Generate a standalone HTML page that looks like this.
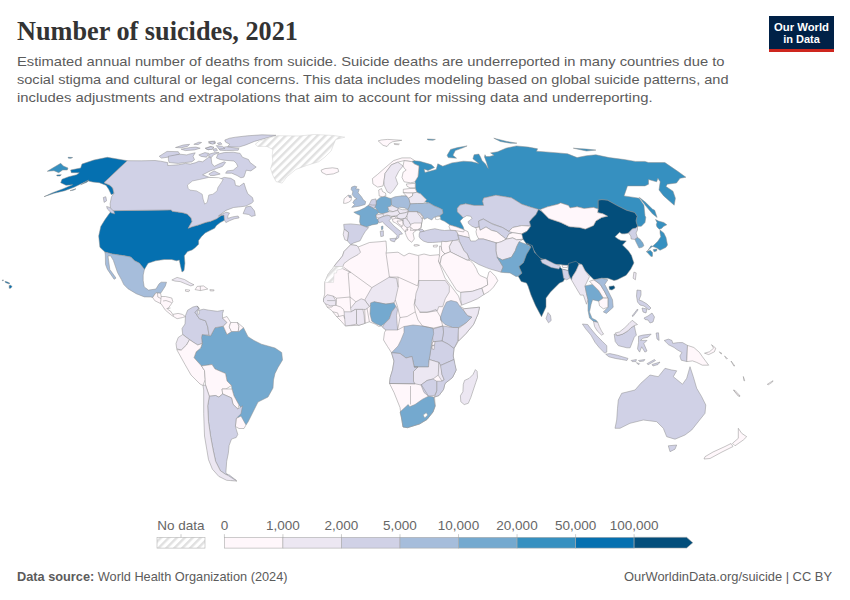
<!DOCTYPE html>
<html><head><meta charset="utf-8"><style>
html,body{margin:0;padding:0;background:#fff;width:850px;height:600px;overflow:hidden}
svg{display:block}
.t{font-family:"Liberation Serif",serif;font-weight:bold;fill:#333}
.s{font-family:"Liberation Sans",sans-serif;fill:#5b5b5b}
.lg{font-family:"Liberation Sans",sans-serif;fill:#666;font-size:13.5px}
.ft{font-family:"Liberation Sans",sans-serif;fill:#5b5b5b;font-size:12.75px}
.logo{font-family:"Liberation Sans",sans-serif;font-weight:bold;fill:#fff;font-size:11px}
</style></head><body>
<svg width="850" height="600" viewBox="0 0 850 600">
<defs>
<pattern id="hatch" patternUnits="userSpaceOnUse" width="5.6" height="5.6" patternTransform="rotate(45)">
<rect width="5.6" height="5.6" fill="#fff"/><rect x="0" y="0" width="2.4" height="5.6" fill="#e0e0e0"/>
</pattern>
</defs>
<rect width="850" height="600" fill="#fff"/>
<text class="t" x="17" y="40.3" font-size="26.5" textLength="281" lengthAdjust="spacingAndGlyphs">Number of suicides, 2021</text>
<text class="s" x="17" y="65.8" font-size="13.6" textLength="707.5" lengthAdjust="spacingAndGlyphs">Estimated annual number of deaths from suicide. Suicide deaths are underreported in many countries due to</text>
<text class="s" x="17" y="83.8" font-size="13.6" textLength="711.5" lengthAdjust="spacingAndGlyphs">social stigma and cultural or legal concerns. This data includes modeling based on global suicide patterns, and</text>
<text class="s" x="17" y="101.6" font-size="13.6" textLength="635.5" lengthAdjust="spacingAndGlyphs">includes adjustments and extrapolations that aim to account for missing data and underreporting.</text>
<rect x="769" y="16" width="65" height="34" fill="#002147"/>
<rect x="769" y="49" width="65" height="3" fill="#ce261e"/>
<text class="logo" x="801.5" y="30.5" text-anchor="middle" textLength="55" lengthAdjust="spacingAndGlyphs">Our World</text>
<text class="logo" x="801.5" y="42.8" text-anchor="middle">in Data</text>
<g stroke="#8c8c8c" stroke-width="0.5" stroke-linejoin="round">
<path d="M82,164 94,160 107.3,157.3 127.3,160.7 104,182.7 110,185.3 112.7,188 114,193.3 111.3,194.7 108.7,189.3 106,185.3 99.3,182.7 92.7,182 87.3,180.7 80.7,184 74,187.3 64.7,190.7 54,193.3 44,196.7 52.7,192.7 63.3,188.7 72.7,184.7 66,185.3 60.7,182.7 62,179.3 68.7,176.7 76.7,174.7 79.3,172.7 71.3,172.7 70.7,170 80.7,168 81.3,166ZM80.7,184.7 88.7,180 87.3,182ZM70,190.7 76,188.7 74,190ZM56.7,175 61.3,174.8 60,176 57,176ZM68,157.3 72.7,157.5 71,158.3 68.5,158.2Z" fill="#0570b0"/>
<path d="M47.3,171.3 52.7,168 60.7,163.3 63.3,166 68,168 67.3,170 62.7,170 58.7,172.7 54,170.7Z" fill="#3690c0"/>
<path d="M111.5,210.7 171.3,209.9 172.2,211.3 182.6,212.7 187.3,214.1 191.1,217.9 192,221.6 188.2,228.2 192,226.8 198.6,224.9 205.2,222.6 210.8,221.2 216.5,218.8 221.2,215.5 224,215.1 224.5,220.2 220.2,222.6 216.5,225.4 214.6,228.2 208.9,231.1 205.2,232.9 201.4,236.7 198.6,240.5 198.6,244.2 194.8,248 192,250 187.6,251.5 184.3,255.8 184.9,263.2 184,270.6 182,272 180.5,266 179.3,260 176.5,260.8 171.6,259.5 164.2,259.5 155.5,260.8 148.1,263.2 144.4,269.4 139.5,263.2 134.5,260.8 130.8,257.1 124.6,255.8 112.3,254 104.9,252.1 99.9,247.2 98.7,236.1 100.8,226.4 104.9,219.8 109,214Z" fill="#0570b0"/>
<path d="M104.9,252.1 112.3,254 124.6,255.8 130.8,257.1 134.5,260.8 139.5,263.2 144.4,269.4 143.2,275 143.2,280.6 144.2,286.9 148.5,290.1 155.9,289 159.1,283.8 161.2,282.2 166.5,282.2 165.4,285.9 162.8,290.1 160.6,293.3 155.9,292.8 153.8,295.4 152.7,297.5 150.6,297 144.4,296.9 136.2,293.7 127.9,288.7 123.8,284.6 121.4,279.6 117.5,272.5 113.3,260.3 110.6,255.8 108,256 109.8,269.4 116,278.1 114.1,279.3 107.4,269.4 105.5,264.5 105.3,255Z" fill="#a6bddb"/>
<path d="M152.7,297.5 155.9,292.8 160.6,293.3 161.2,296.5 165.4,296.5 171.8,298 172.8,301.7 170.7,304.9 167.5,309.2 170.7,311.3 172.8,314.4 178.1,313.4 182.4,314.4 185.5,316.6 182.4,317.6 177.1,318.7 171.8,315.5 165.4,310.2 161.2,303.9 154.8,300.7Z" fill="#fff7fb"/>
<path d="M157.5,293 157.8,297 161,298.5 160.5,303.5M161.2,296.5 161,298.5M163,301 166,300.5 171.5,302.5M166.5,308.5 170.5,308M172.8,314.4 173.5,316" fill="none"/>
<path d="M171.8,280 177.1,277.4 184.5,279.5 189.8,282.7 194,284.8 190.8,285.9 185.5,283.8 180.2,281.6 175,281.1Z" fill="#ece7f2"/>
<path d="M197.2,286.4 203.5,285.9 207.8,289 200.4,290.6 195.1,289.6Z" fill="#fff7fb"/>
<path d="M200.3,286.2 200.4,290.6" fill="none"/>
<path d="M185.5,289.6 189.8,290.1 188.7,291.7 185.5,291.2Z" fill="#fff7fb"/>
<path d="M209.9,289.6 214.1,289.9 213.8,290.9 210.2,290.9Z" fill="#fff7fb"/>
<path d="M127.3,160.7 104,182.7 110,185.3 112.7,188 114,193.3 111.5,196.8 110.1,203.8 110.8,210.2 111.5,210.7 171.3,209.9 172.2,211.3 182.6,212.7 187.3,214.1 191.1,217.9 192,221.6 188.2,228.2 192,226.8 198.6,224.9 205.2,222.6 210.8,221.2 216.5,218.8 221.2,215.5 224,215.1 224.5,220.2 225.9,222.6 229.6,220.7 234.4,218.8 239.1,217.9 238.1,216 232.5,216.9 227.8,218.4 227.8,216 229.5,213 225.9,212.2 218.4,216 225.9,210.4 233.6,207.5 238.4,207 245.9,206.1 251.5,203.2 253.4,201.4 252.5,197.6 247.8,193.8 245.9,189.1 244,183 239.3,186.3 235.5,185.4 234.6,180.6 230.8,178.3 224.2,177.4 220.5,178.8 210,177.6 202.6,174.8 210.3,170.9 216.4,168.6 222.5,166.4 225.6,162.5 224.1,161.8 218.7,164.1 214.1,166.4 211.8,163.3 211.1,157.9 208.8,157.2 202.6,161.8 198.8,161.2 195.9,162.6 190.3,164.1 185.4,163.4 178.3,164.8 167.7,165.5 167.7,162.6 160.6,161.2 155,160.5 141.2,160.8Z" fill="#d0d1e6"/>
<path d="M187.4,185.1 192.4,181 199.8,179.4 208.8,177.4 218.7,177.7 223.2,179.4 221.2,182.7 217.9,187.6 217.1,190.9 212.9,194.2 208.8,195 207.2,202.4 204.7,204.1 203.1,199.1 202.2,194.2 196.5,190.9 189.9,190.1 188.2,188.4Z" fill="#fff" stroke="#999" stroke-width="0.5"/>
<path d="M159.2,156.3 167,151.4 178.3,151.7 179.7,154.2 169.1,157 161.4,158.1Z" fill="#d0d1e6"/>
<path d="M168.4,156.3 179.7,154.2 186.8,154.9 188.9,154.2 195.2,152.8 193.1,156.3 194.5,159.8 191.7,161.9 184.6,162.6 178.3,163.4 169.1,162.6 168.4,159.8Z" fill="#d0d1e6"/>
<path d="M175.5,147.5 183.2,145 189.6,144.3 187.5,146.4 181.1,147.8Z" fill="#d0d1e6"/>
<path d="M181.1,149.2 190.3,147.5 195.9,147.1 200.2,148.2 194.5,149.9 185.4,150.6Z" fill="#d0d1e6"/>
<path d="M193.8,144.3 198.8,142.2 201.6,142.5 198.1,144.6Z" fill="#d0d1e6"/>
<path d="M205.1,148.2 210.8,146.4 213.6,147.8 208.6,149.9Z" fill="#d0d1e6"/>
<path d="M198.8,154.9 204.9,152.6 208.8,153.4 206.5,157.2 201.1,156.4Z" fill="#d0d1e6"/>
<path d="M208.6,141.5 215,141.1 215,143.6 210.1,143.6Z" fill="#d0d1e6"/>
<path d="M224.8,140 229.7,138.2 235.4,137.2 247.4,135.8 262,134.8 276,135.3 268,137.5 254.4,141.4 245.9,144.9 238.9,147.1 227.6,146.7 229.7,144.2 225.5,142.1Z" fill="#d0d1e6"/>
<path d="M219.1,148.5 226.2,146.7 238.9,148.5 238.2,150.2 226.2,150.6 219.8,150.2Z" fill="#d0d1e6"/>
<path d="M216.3,145.6 222.6,146.4 224.8,148.5 219.1,149.2Z" fill="#d0d1e6"/>
<path d="M208.5,142.8 212.1,141.4 215.6,142.8 212.8,144.2Z" fill="#d0d1e6"/>
<path d="M217.4,143.2 220.5,142.5 221.9,144.2 218.4,144.6Z" fill="#d0d1e6"/>
<path d="M205.7,148.5 210.6,146.7 213.8,147.1 212.1,149.5 207.1,149.5Z" fill="#d0d1e6"/>
<path d="M212.8,149.2 216.3,148.5 217.4,150.6 214.2,151.3Z" fill="#d0d1e6"/>
<path d="M209.2,154.1 215.6,152.4 219.1,152.7 213.5,154.8 211.4,157.6 208.5,156.2Z" fill="#d0d1e6"/>
<path d="M216.4,157.9 217.9,154.1 224.1,152.6 233.2,152.2 240.1,153.4 242.4,157.2 248.5,159.5 250.1,162.5 256.2,167.1 250.8,170.9 246.2,170.2 245.5,172.5 243.9,177.1 240.9,177.8 237.1,175.5 231.7,173.2 225.6,173.2 227.1,170.9 233.2,170.2 237.8,166.4 236.3,163.3 234,161 224.1,160.2 220.2,159.5Z" fill="#d0d1e6"/>
<path d="M208.8,174 214.1,170.9 220.2,174 214.1,175.5 210.3,175.5Z" fill="#d0d1e6"/>
<path d="M243.1,213.6 245.9,207 250.6,206.1 254.4,210.8 255.3,215.5 251.5,216.4 248.7,214.5Z" fill="#d0d1e6"/>
<path d="M103.3,197.5 105.8,196.7 106.6,200.8 104.1,202.4Z" fill="#d0d1e6"/>
<path d="M106.6,206.5 109.9,207.4 114,211.5 114.8,214 111.5,213.1 107.4,209Z" fill="#d0d1e6"/>
<path d="M255.4,144.1 259.2,141.1 271.4,137.2 277.5,135.7 298.9,136 314.2,134.5 332.6,135.4 344.8,137.2 335.7,139.5 333.4,144.9 331.1,151 324.9,157.1 318.8,161.7 306.6,165.5 295.9,169.4 286.7,177 282.1,183.1 276,181.6 272.9,175.5 270.6,168.6 272.9,161.7 272.2,155.6 272.9,149.5 266.8,146.4 257.6,146.4Z" fill="url(#hatch)" stroke="#d0d0d0" stroke-width="0.5"/>
<path d="M321.1,170.1 325,168.6 332.6,167.8 337.9,168.6 338.7,171.7 333.4,173.9 326.5,174.7 321.9,172.4Z" fill="#fff7fb"/>
<path d="M202.2,334.5 210.5,336 215,327.7 223.3,326.2 227,334.5 231.5,331.5 243.5,327.7 248,336.7 254,340.5 261.5,344.2 275,348 281.7,352.5 282.5,360 278,367.5 275,373.5 273.5,380 273,388 268,397 258,402 254,410 248,422 246,425 241,420 236,416 241,408 239,405 234,396 232,389 231.5,385.5 227,381 225.5,373.5 215,369 212,364.5 201.5,366 194,357.7 196.2,351.7 200.7,348 202.2,343.5 201.5,337.5Z" fill="#74a9cf"/>
<path d="M185.5,315.5 187.6,310.2 192.9,307 197.2,306 199.2,308.2 195.1,312.3 199.3,318.7 205.6,320.8 207.5,326.2 209,335.2 202.2,334.5 201.5,337.5 202.2,343.5 197.7,345 194,342.7 189.5,339.7 182.7,334.5 182,328.5 185,324Z" fill="#d0d1e6"/>
<path d="M197.2,306 199.3,310.2 203.5,309.2 208.8,310.2 217.3,311.3 223.6,310.2 222.6,313.4 222.5,318 227,322.5 223.3,326.2 215,327.7 210.5,336 209,335.2 207.8,327.1 205.6,320.8 199.3,318.7 195.1,312.3 199.2,308.2Z" fill="#d0d1e6"/>
<path d="M197.5,310.5 199,310.3 199.3,314 197.8,314.4Z" fill="#fff" stroke="#999" stroke-width="0.5"/>
<path d="M222.5,318 227,316.5 230.7,322.5 229.2,327 231.5,331.5 227,334.5 223.3,326.2 227,322.5Z" fill="#fff7fb"/>
<path d="M230.7,322.5 237.5,322.5 239,326.2 238.2,331.5 231.5,331.5 229.2,327Z" fill="#fff7fb"/>
<path d="M237.5,322.5 243.5,327.7 239,331.5 238.2,331.5 239,326.2Z" fill="#fff7fb"/>
<path d="M182.7,334.5 189.5,339.7 186.5,345 181.2,350.2 176.7,348.7 176,343.5 178.2,337.5Z" fill="#ece7f2"/>
<path d="M181.2,350.2 186.5,345 189.5,339.7 194,342.7 197.7,345 202.2,343.5 200.7,348 196.2,351.7 194,357.7 201.5,366 204.5,370.5 205.2,379.5 203,385.5 200,384 191,375 185,364.5 176.7,349.5Z" fill="#fff7fb"/>
<path d="M201.5,366 212,364.5 215,369 225.5,373.5 227,381 231.5,385.5 226,389 222,389 222.7,394 218.8,397.1 215.6,395.5 209.3,396.3 205.5,385 205.2,379.5 204.5,370.5Z" fill="#fff7fb"/>
<path d="M222.7,394 222,389 226,389 232,389 234,396 239,405 237.8,409 233,404.3 231.5,397.9Z" fill="#fff7fb"/>
<path d="M236.2,418.5 241,416 246,425 244,428.5 239,428.5 235.4,426.5Z" fill="#fff7fb"/>
<path d="M209.3,396.3 215.6,395.5 218.8,397.1 222.7,394 231.5,397.9 233,404.3 237.8,409 242.5,405.8 241,413.8 236.2,418.5 235.4,426.5 237.8,434.4 236.2,437.5 231.5,439.1 229.1,445.5 228.3,453.4 226.7,461.3 225.9,472.4 228.3,475.6 225.1,474 220.4,470.8 215.6,461.3 213.2,450.2 210.8,437.5 208.5,421.7 207.7,405.8Z" fill="#d0d1e6"/>
<path d="M225.1,474.8 229.1,474.8 236.2,480.3 231.5,480.3Z" fill="#d0d1e6"/>
<path d="M205.5,385 209.3,396.3 207.7,405.8 208.5,421.7 210.8,437.5 213.2,450.2 215.6,461.3 220.4,470.8 225.1,474 228.3,475.6 233,478.7 237,481.1 226.7,480.3 218.8,476.4 212.4,469.2 208.5,459.7 206.9,450.2 204.5,436 203.7,413.8 203.7,390 203,385.5Z" fill="#ece7f2"/>
<path d="M350.7,244.7 356.7,245.5 358.2,247 369.5,242.5 380,241.7 386,241 386.7,250 386,253 398,252.2 404,256 409,253.2 418,255.5 424,254 430,255.5 439,254.7 440.5,258 438.5,261 445,278 454,290 458.5,296 461.5,305 460,306.5 464.5,308.7 472,308 479.5,307.2 478,314 473.5,324.5 466,333.5 458.5,341 454,348.5 453.2,356 454.7,365 456.2,370 452.5,377.5 445,383.5 443.5,389.5 439,395.5 434.5,397 435.2,406 433,412 427,419.5 419.5,424 407.5,427.7 403,427 401.5,418 400,407.5 397,400 394,392.5 389.5,383.5 390.2,377.5 392.5,370 394,361 391.5,352.7 387.5,346.5 383.5,340 384.5,332.5 385.9,330 381.2,325.9 378.8,326.5 375.3,324.1 369.4,321.8 358.8,325.3 345.3,325.9 341.2,321.2 336.5,316.5 331.8,310.6 327.1,307.1 323.5,300 323.5,298.8 324.7,294.1 324.7,282.4 328.2,274.1 334.1,266.5 335,265 342.5,256 344,251.5Z" fill="#fff7fb"/>
<path d="M335,265 342.5,256 344,251.5 350.7,244.7 356.7,245.5 358.2,247 360.5,252.2 358.2,254.5 350,259 344,263.5 342.9,266.5 334.1,266.5Z" fill="#ece7f2"/>
<path d="M324.7,282.4 328.2,274.1 334.1,266.5 342.9,266.5 342.9,268.8 337,270 336.5,273 334.1,273 333.5,282.4Z" fill="url(#hatch)" stroke="#d0d0d0" stroke-width="0.5"/>
<path d="M371.8,287.6 389.4,277.1 396.5,278.2 398.2,287.1 395.3,300 394.1,302.9 385.9,304.1 374.1,301.8 369.4,306.5 364.7,300Z" fill="#ece7f2"/>
<path d="M350.6,308.2 355.9,301.8 361.2,298.8 364.7,300 369.4,306.5 365.9,309.4 355.3,309.4 351.2,311.8Z" fill="#ece7f2"/>
<path d="M323.5,298.8 327.1,294.7 333,296 335.9,300.6 335.9,305.3 330.6,305.9 325.9,304.1 323.5,302Z" fill="#ece7f2"/>
<path d="M344.1,311.8 351.2,311.8 355.3,309.4 356.5,310.6 356.5,324.1 350.6,325.3 345.3,325.9 344.7,318.8Z" fill="#ece7f2"/>
<path d="M356.5,309.4 362.9,309.4 364.1,315.3 364.7,323.5 358.8,325.3 356.5,324.1Z" fill="#ece7f2"/>
<path d="M370.6,302.9 374.1,301.8 385.9,304.1 394.1,302.9 395.9,306.5 391.8,311.8 389.4,318.8 384.7,323.5 381.2,325.9 375.3,323.5 371.8,321.2 370,314.1Z" fill="#74a9cf"/>
<path d="M395.9,306.5 397.6,309.4 396.5,315.3 397.1,323.5 397.6,330 385.9,330 382.4,327.1 384.7,323.5 389.4,318.8 391.8,311.8Z" fill="#d0d1e6"/>
<path d="M418.7,280.5 445.3,280.5 449.3,286 449.3,292 445.3,298.7 442.7,306.7 438.7,306.7 437.3,310.7 429.3,312 420,312 414.7,304 416,293.3 418.7,286Z" fill="#ece7f2"/>
<path d="M440.5,317 443.5,308 446.5,302 451,300.5 457,302 460,306.5 463,309.5 467.5,315.5 472,317 466,323 458.5,327.5 452.5,327.5 445,324.5 440.5,320Z" fill="#a6bddb"/>
<path d="M464.5,308.7 472,308 479.5,307.2 478,314 473.5,324.5 466,333.5 458.5,341 457.7,329 466,323 472,317 467.5,315.5 463,309.5Z" fill="#ece7f2"/>
<path d="M442.7,326 452.5,327.5 458.5,327.5 457.7,341 454,348.5 448,344 442,341 443.5,332Z" fill="#d0d1e6"/>
<path d="M433,329 442.7,326 443.5,332 442,341 433,341.7 432.2,335Z" fill="#d0d1e6"/>
<path d="M433,341.7 442,341 448,344 454,348.5 453.2,356 454,359.5 440.5,365.5 439,362.5 429.2,359.5 430.7,350Z" fill="#d0d1e6"/>
<path d="M404,326.5 413,325 422.5,326 433,328.2 433.7,333.5 432.2,339.5 430.7,350 429.2,359.5 428.5,367 414.2,367 412,356.5 406,358 400,353.5 391.5,352.7 398,346 401,340 404,332.5Z" fill="#a6bddb"/>
<path d="M391.5,352.7 400,353.5 406,358 412,356.5 414.2,367 418,367 413.5,371.5 413.5,381.2 415,383.8 389.5,383.5 390.2,377.5 392.5,370 394,361Z" fill="#d0d1e6"/>
<path d="M414.2,367 428.5,367 429.2,359.5 439,362.5 439,374.5 433,379 427,380.5 421,385 415,383.8 413.5,381.2 413.5,371.5 418,367Z" fill="#ece7f2"/>
<path d="M439,362.5 441.2,366.2 442,374.5 444.2,379.7 442,381.2 438.2,375.2Z" fill="#ece7f2"/>
<path d="M440.5,365.5 454,359.5 456.2,370 452.5,377.5 445,383.5 443.5,389.5 439,395.5 434.5,397 436.7,391 436.7,381.2 442,381.2 444.2,379.7 442,374.5Z" fill="#d0d1e6"/>
<path d="M421,385 427,380.5 433,379 436.7,381.2 436.7,391 434.5,395.5 428.5,396.2 424,392.5Z" fill="#d0d1e6"/>
<path d="M400,412 408.2,404.5 409.7,406.7 415,404.5 422.5,399.2 428.5,396.2 433.7,397 435.2,406 433,412 427,419.5 419.5,424 407.5,427.7 403,427 401.5,418Z" fill="#74a9cf"/>
<path d="M423.2,415 426.2,412.7 427.7,415 424.7,418Z" fill="#fff" stroke="#999" stroke-width="0.5"/>
<path d="M475.4,369.6 477.1,371.3 477.5,377.5 475.8,382.5 473.3,390 470.8,397.5 468.3,403.3 464.2,404.6 460.8,401.7 460.4,395.8 462.9,391.7 463.3,384.2 464.6,380.4 469.2,378.3 472.9,374.6Z" fill="#ece7f2"/>
<path d="M342.9,268.8 350.6,272.4 348.2,273 350,297 336.5,298.2 333,296M343.5,267.1 371.8,287.6M389.4,277.1 386,253M417.6,285.9 418.7,281 418.7,256M395.3,300 397.6,307 400,317.6 407.1,316.5 415.3,311.8 414.1,304.7 415.3,298.8M398,277 417.6,285.9M350,297 350.6,308.2M389.4,277.1 398,277 398.2,287.1M336.5,298.2 335.9,305.3M400,317.6 397.6,330M419.5,312.5 427,312.5 436,309.5 440.5,317 442.7,326 433,328.2 422.5,326 418,320 415.3,311.8M410.5,386 410.5,404.5M421,384.2 428.5,396.2M389.5,383.5 415,383.8M404,326.5 397.6,330M335.9,305.3 340.6,307 343.5,309.4 344.1,311.8M327.1,307.1 331.8,307.1 332.9,305.8M332.9,311.8 337.6,312.9 338.8,316.5M338.8,316.5 343.5,315.3 344.7,318.8M336.5,316.5 338.8,316.5M327.1,300.6 335.3,300.6M364.7,309.4 365.3,323.5M367,308.2 369.4,321.8M350,297 355.9,301.8" fill="none"/>
<path d="M411.5,160.5 419.7,161.3 431.2,164.6 434.5,167.5 428,170.5 424,169 425,172.5 436.2,169.5 437.8,163.8 442.8,166.2 451.8,162.9 463.5,161.2 471.8,161.8 478.8,163.5 472.9,158.8 474.1,154.7 478.8,154.1 480.5,157 482,160.5 485.5,164 487.5,167.5 488.3,168.5 486.5,162.4 484.5,157 485,154.7 485.9,156.5 489.4,156.5 494.1,155.3 490.6,152.9 497.6,151.8 505.9,148.2 516.5,145.9 528.2,147.1 537.6,148.8 536.5,151.2 558.2,152.9 567.6,153.8 577.1,157.6 586.5,155.7 595.9,154.8 609.1,157.6 624.1,159.5 635.4,161.4 644.8,161.4 648.5,162.6 664.9,162.6 677.7,171.3 685.9,177.2 680,178.3 676.5,183 667.2,184.2 666,186.5 673,191.2 675.4,198.2 674.2,205.2 663.7,195.9 659,190 660.2,181.8 657.9,178.3 656.7,181.8 648.5,179.5 648.5,184.2 645,185.9 627.5,185.9 624,195.9 639.2,198.2 643.9,205.2 645,215.7 645.8,217.3 645,222.5 641.3,226.3 637.5,226.3 635.9,220.9 637.1,216.2 634.7,212.6 626.5,210.3 617.1,205.6 607.6,200.3 601.8,199.7 598.2,200.3 598.2,209.1 593.5,207.4 584.1,208.5 577.1,206.8 570,207.9 568.4,205.5 560.6,202.9 558,204.2 547.6,206.8 540.5,209.4 538.6,209.4 529.5,206.8 521.8,204.2 511.4,197.8 495.9,195.2 483.7,198 482.6,201.2 483.7,205.4 474.1,205.4 465.6,203.8 460,205 457.3,208.3 457.3,211.7 462,216.3 463.3,217.7 460,221 463.3,227 464,229.7 456.7,227 450,225 444.5,221.3 441.5,220 438.5,217.8 440,215.5 443,213.3 442.3,209.5 439.3,208 434,205.8 428.8,202.8 425,202 426.5,199.8 425,198.3 420.5,193.8 416.8,192.3 415.3,187.8 415.3,182.5 414.7,182 418,176.5 419,166 414.5,164Z" fill="#3690c0"/>
<path d="M447.1,155.3 450.6,149.4 457.6,147.6 467.1,145.9 463.5,147.6 455.3,150.6 452.9,155.3 456.5,158.2 448.2,157.6Z" fill="#3690c0"/>
<path d="M493.8,138.2 507,141.5 516.9,143.2 510.3,143.2 500.4,141.5Z" fill="#3690c0"/>
<path d="M427.1,139 435.4,139.4 433,140.2 428,140Z" fill="#3690c0"/>
<path d="M573.3,148.2 586.5,149.1 595.9,150.1 586.5,151Z" fill="#3690c0"/>
<path d="M639.4,197.4 645.3,202.1 652.4,209.1 654.7,210.3 657.1,217.4 652.4,213.8 646.5,206.8Z" fill="#3690c0"/>
<path d="M372.4,178.6 377.6,174.4 386.1,166.9 393.5,160.6 402,157.9 410.5,157.9 414.7,160.6 411.5,161.6 404.1,160.6 397.8,162.2 391.4,164.8 385.1,173.3 384,180.7 383,186 377.6,187.1 372.9,183.9Z" fill="#fff7fb"/>
<path d="M385.1,173.3 391.4,164.8 397.8,162.2 403.1,165.9 398.8,171.2 395.6,177.5 397.8,183.9 393.5,190.2 390.4,193.4 387.2,191.8 384,184.9 384,180.7Z" fill="#ece7f2"/>
<path d="M403.1,165.9 404.1,160.6 411.5,161.6 414.5,164 419,166 418,176.5 414.7,182 410.5,182.8 404.1,181.8 402,177.5 403.1,172.2 406.2,170.1 404.1,168Z" fill="#fff7fb"/>
<path d="M406.3,184 415.3,183.3 415.3,187.8 410,187.8 407,186.3Z" fill="#fff7fb"/>
<path d="M403.3,189.3 410,188.5 415.3,188.5 416.8,192.3 413,193 407.8,193 403.3,192.6Z" fill="#fff7fb"/>
<path d="M403.3,192.6 407.8,193 413,193 412.3,196 408.5,198.3 406.3,196Z" fill="#fff7fb"/>
<path d="M401,196 406.3,196 405.5,197.1 401.8,197.1Z" fill="#3690c0"/>
<path d="M413,193 416.8,192.3 420.5,193.8 425,198.3 426.5,199.8 423.5,203.5 417.5,203.5 410,203.9 409.3,200.5 408.5,198.3 412.3,196Z" fill="#ece7f2"/>
<path d="M410,203.9 417.5,203.5 423.5,203.5 428.8,202.8 434,205.8 439.3,208 442.3,209.5 443,213.3 440,215.5 437,216.3 433.3,217.8 431.8,220 427.3,217.8 424.3,219.3 422.8,217 419.8,213.3 417.5,211.8 409.3,211.8 407.8,209.5 409.3,206.5Z" fill="#a6bddb"/>
<path d="M435.5,217 440,216.3 440.8,218.5 437.8,219.6 435.5,219.3Z" fill="#fff" stroke="#999" stroke-width="0.5"/>
<path d="M390.8,198.5 395,196.8 401,196 406.3,196 408.5,198.3 409.3,200.5 410,203.9 409.3,206.5 407.8,209.5 404.8,208 399.5,207.3 397.2,209.1 391.4,204.8Z" fill="#a6bddb"/>
<path d="M376,201.1 380.2,197.4 382.9,196.6 385.1,196.5 388.7,197.9 390.8,198.5 391.4,204.8 388.7,208 388.2,210.6 389.8,212.8 382.4,213.8 378.6,212.8 377.1,210.1 374.9,206.9 376,203.8Z" fill="#74a9cf"/>
<path d="M378.7,190 381.5,188.5 382.5,191.5 385.5,193 386,195.5 383,196.8 379.2,196Z" fill="#fff7fb"/>
<path d="M371.5,199.8 376,198.9 376.2,203 376,205 374.9,206.9 373.9,208.5 368.1,205.4 369.2,204.5Z" fill="#d0d1e6"/>
<path d="M369.2,204.5 372.7,205.1 376.2,205" fill="none"/>
<path d="M353.8,212.2 359.1,210.6 364.4,208 368.1,205.4 373.9,208.5 377.1,210.1 378.6,212.8 376,214.9 376.5,218.6 379.2,220.7 377.6,223.9 371.8,224.9 366.5,227.1 360.6,224.9 359.6,221.8 360.1,215.4 356.4,213.8Z" fill="#74a9cf"/>
<path d="M381.3,226.5 382.9,226 382.9,229.2 381.5,229.7Z" fill="#74a9cf"/>
<path d="M343.7,224.4 350.6,223.9 360.6,224.9 366.5,227.1 368.6,227.6 365.4,231.3 362.8,235.5 360.1,240.8 353.8,242.9 350.6,244.5 347.4,240.8 348.5,232.4 344.2,229.2Z" fill="#d0d1e6"/>
<path d="M344.2,229.2 348.5,232.4 347.4,240.8 344.8,239.8 343.2,234.5Z" fill="#ece7f2"/>
<path d="M351.7,187 354.6,186.1 356.9,186.7 355.7,188.7 359.2,189.3 358.1,192.8 361.6,196.9 363.3,199.8 365.7,201.6 365.1,204.5 359.2,206.2 355.2,206.8 351.7,207.4 354.6,204.5 352.8,202.7 354.6,199.8 356.9,198.7 354.6,197.5 352.2,194.6 352.8,191.7 351.1,189.3ZM348.2,195.2 351.1,195.7 351.4,197.5 349.3,197.5Z" fill="#a6bddb"/>
<path d="M343.5,203.3 344.1,198.7 348.2,195.2 349.3,197.5 351.4,197.5 351.1,200.4 348.7,202.2 345.8,203.3Z" fill="#fff7fb"/>
<path d="M376,214.9 382.4,213.8 384.5,215.9 379.2,218.1 376.5,217.5Z" fill="#ece7f2"/>
<path d="M378.1,218.6 384.5,215.9 389.8,215.4 390.8,218.6 389.2,220.7 394,226 400.4,231.3 402.5,234 399.3,234.5 398.8,237.6 395.6,239.8 397.2,235.5 392.9,231.3 385.5,224.9 382.4,221.8 379.2,222.8 378.1,220.7Z" fill="#d0d1e6"/>
<path d="M389.8,238.7 396.1,238.2 394.5,241.9 390.8,240.8Z" fill="#d0d1e6"/>
<path d="M380.2,231.3 383.4,230.8 383.4,236.1 380.8,236.6Z" fill="#d0d1e6"/>
<path d="M391,217 395,216.3 397,215.7 397,217.7 400.3,219 403,219 405,218.3 407,215.7 408.3,211.7 416.3,211.7 420.3,213 423.7,217 422.3,219.7 421.7,223 421,227.7 419,229.7 416.3,230.3 413,233 414.3,239 411.7,242.3 408.3,239.7 406.3,235.7 405,231.7 401,227 395.7,223 393,221.7 392.3,219.3Z" fill="#fff7fb"/>
<path d="M387.7,207 392.3,205.7 398.3,208.3 397.7,210.3 393,211.7 389,210.3Z" fill="#ece7f2"/>
<path d="M398.3,208.3 402.3,209.7 407.7,209.7 408.3,211.7 404.3,213 399.7,213.7 397.7,210.3Z" fill="#ece7f2"/>
<path d="M389,211.7 393,211.7 397.7,210.3 399.7,213.7 397,215.7 391.7,216.3 387,215 384.5,215.9 382.4,213.8Z" fill="#ece7f2"/>
<path d="M399.7,213.7 404.3,213 408.3,211.7 407,215.7 405,218.3 400.3,219 397,217.7 397,215.7Z" fill="#ece7f2"/>
<path d="M403,219 405,218.3 407,219 409,221.7 411,225 409.7,227 407,227.7 404.3,225.7 403,222.3Z" fill="#ece7f2"/>
<path d="M407,215.7 408.3,211.7 416.3,211.7 417.7,212.3 420.3,215.7 422.3,218.3 422.3,219.7 421.7,223 414.3,223 410.3,224.3 409,221.7 407,219Z" fill="#ece7f2"/>
<path d="M417.5,211.8 419.8,213.3 422.8,217 422,218.9 420.5,216.3 418.3,214Z" fill="#fff7fb"/>
<path d="M391,217 395,216.3 395.7,218.3 392.3,219.3M395.7,218.3 400.3,219 403,220.3 399.7,221 397,221 398.3,223.7 402.3,226.3 401,227M403,220.3 403,225 402.3,226.3M407,227.7 408,230 405,231.7M409.7,227 411,227.7 413.7,229.7 417.7,229.7 421,227.7 421.7,223M411,227.7 410.5,230.5 411.7,230.3 416.3,230.3M405,231.7 406.5,229 408,230" fill="none"/>
<path d="M419.2,234 419.9,231.9 423.5,231.2 429.1,229.8 434.8,228.7 439.7,229.8 444.6,230.5 450.3,230.1 455.2,230.5 457.4,232.6 458.1,236.1 458.8,239.6 453.1,241.1 446.8,241.8 441.8,241.8 438.3,242.1 432.6,242.5 427.7,242.5 423.5,241.1 420.6,238.9 419.2,236.8Z" fill="#d0d1e6"/>
<path d="M418.5,229.8 422,229.1 424.2,231.2 420.6,231.9Z" fill="#d0d1e6"/>
<path d="M448.9,226.2 450,225 456.7,227 464,229.7 468,231.7 468.7,234.3 469.3,237.7 463.3,236.3 458,235 457.4,232.6 455.2,230.5 450.3,230.1Z" fill="#fff7fb"/>
<path d="M455.2,230.5 458.8,231.2 463.7,231.9 464.4,229.8" fill="none"/>
<path d="M457.3,208.3 460,205 465.6,203.8 474.1,205.4 483.7,205.4 482.6,201.2 483.7,198 495.9,195.2 511.4,197.8 521.8,204.2 529.5,206.8 538.6,209.4 536,214.6 532.1,218.5 529.5,221.7 530.8,226.2 521.8,225.6 512.7,227.5 508.8,231.4 502.4,227.5 490.7,223 483.3,219 478.7,221 479.3,227 475.3,227.7 472,226.3 468.7,223.7 468,221.7 470,220.3 472,218.3 470.7,216.3 466.7,215.7 463.3,217.7 462,216.3 457.3,211.7Z" fill="#d0d1e6"/>
<path d="M478.7,221 483.3,219 492.7,224.3 502.4,227.5 508.8,231.4 512.7,232.7 508.8,234 506.2,239.2 496.7,231.7 491.3,230.3 486,227 480,230.3 479.3,227Z" fill="#d0d1e6"/>
<path d="M475.3,227.7 479.3,227 480,230.3 486,227 491.3,230.3 496.7,231.7 506.2,239.2 501.1,241.8 496.7,243 490,241 483.3,239 478.7,239 476.7,235 476,231.7 476.7,229Z" fill="#fff7fb"/>
<path d="M512.7,227.5 521.8,225.6 530.8,226.2 526.9,231.4 521.8,234 512.7,232.7 508.8,231.4Z" fill="#fff7fb"/>
<path d="M508.8,234 512.7,232.7 521.8,234 526.9,231.4 523.1,239.2 516.6,239.8 512.7,237.9 506.2,239.2Z" fill="#fff7fb"/>
<path d="M495.9,243.1 501.1,241.8 506.2,239.2 512.7,237.9 516.6,239.8 523.1,239.2 519.2,241.8 516.6,246.9 515.3,250.8 511.4,257.3 502.4,260 497.2,257.3 495.9,250.8Z" fill="#ece7f2"/>
<path d="M458.5,237 458,235 463.3,236.3 469.3,237.7 470.7,241 475.3,241 478.7,239 483.3,239 490,241 496.7,243 495.9,243.1 495.9,250.8 497.2,257.3 499.9,261.6 503.1,266.9 501,272.2 497.8,271.2 490.4,269.1 486.2,267.6 478.8,264.5 473.5,261.3 469.3,259.2 467.2,253.9 464,250.7 461.9,246.5 459.8,242.2Z" fill="#d0d1e6"/>
<path d="M452.4,240.6 457.6,240.1 459.8,242.2 461.9,246.5 464,250.7 467.2,253.9 469.3,259.2 467.2,260.2 460.8,257.1 450.2,251.8 449.2,246.5Z" fill="#ece7f2"/>
<path d="M441.8,241.2 446,241.7 452.4,240.6 449.2,246.5 450.2,251.8 444.9,253.9 441.8,250.7 441.2,246.5Z" fill="#fff7fb"/>
<path d="M439.6,246 441.2,246.5 441.8,250.7 444.9,253.9 441.6,256.4 440.1,263.8 438.5,261 439.6,254.9Z" fill="#fff7fb"/>
<path d="M440.1,263.8 441.6,256.4 444.9,253.9 450.2,251.8 460.8,257.1 467.2,260.2 470.2,260.6 473.4,263.8 476.6,269.1 477.6,272.2 479.8,275.4 487.2,278.6 487.7,284.9 481.9,288.1 472.4,291.3 460.7,292.4 456.5,290.2 451.2,281.8 445.9,273.3Z" fill="#fff7fb"/>
<path d="M460.7,292.4 472.4,291.3 481.9,288.1 484,294.5 477.6,298.7 470.2,301.9 461.8,305.1 460.7,299.8Z" fill="#ece7f2"/>
<path d="M481.9,288.1 487.7,284.9 487.2,278.6 488.8,272.2 490.4,271.2 495.6,276.5 497.8,280.7 493.5,287.1 489.3,291.3 484,294.5Z" fill="#fff7fb"/>
<path d="M433.3,245.4 437.5,245 437,247 433.5,247Z" fill="#fff7fb"/>
<path d="M499.9,261.6 497.2,257.3 502.4,260 511.4,257.3 515.3,250.8 516.6,246.9 519.2,241.8 526.9,244.4 531,247 526.5,254.5 523.5,262.7 519,266.5 522,273.2 518.2,276.2 516,276.5 510,272.9 503.1,272.5 501,272.2 503.1,266.9Z" fill="#74a9cf"/>
<path d="M538.6,209.4 542.5,212 548.9,218.5 560.6,222.4 568.4,226.2 570,226.8 579.4,227.4 585.3,229.1 593.5,225.6 595.9,220.9 601.8,217.4 607.6,216.2 602.9,213.8 597.6,212.6 598.2,209.1 598.2,200.3 601.8,199.7 607.6,200.3 617.1,205.6 626.5,210.3 634.7,212.6 637.1,216.2 635.9,220.9 637.5,226.3 636,228.1 632.3,228.9 628.5,233 624.8,233.8 621.8,233.8 619.5,232.3 615,236.8 618,239 621,240.5 626.3,240.9 622.5,245 624.8,247.3 628.5,251 631.5,255.5 632.4,258.4 633.9,262.9 630.8,269.1 626.2,275.2 617.1,279.8 614,280.5 607.9,278.2 601.8,278.2 594.1,279.8 589.5,275.2 585,270.6 581.9,264.5 577.3,262.9 571.2,264.5 568.1,266 560.5,264.5 554.4,264.5 545.2,259.9 540.6,258.4 537.3,256 533.4,249.5 532.1,245.6 526.9,244.4 523.1,239.2 521.8,234 526.9,231.4 530.8,226.2 529.5,221.7 532.1,218.5 536,214.6Z" fill="#034e7b"/>
<path d="M609,286.5 614,285.8 615,288 612,290 609.5,289.5Z" fill="#034e7b"/>
<path d="M633.9,272.1 636.2,272.9 635.4,279.8 633.1,278.2Z" fill="#ece7f2"/>
<path d="M526.8,243.1 532.1,245.6 534.5,252.2 540.6,258.4 545.2,259.9 554.4,264.5 560.5,267.5 562,269.1 568.1,270.6 568.5,263.5 576,261.2 579,264.2 576,271 572.2,277 571.5,280 568.5,274 566.6,275.2 563.2,281.5 559.5,283 550.5,292 546,298 546,307 541.5,316.7 535.5,305.5 531,295 528,286 526.5,283 521.2,281.5 518.2,276.2 522,273.2 519,266.5 523.5,262.7 526.5,254.5 531,247Z" fill="#034e7b"/>
<path d="M540.6,259.9 545.2,259.1 554.4,263.7 560.5,266 558.9,269.1 551.3,267.5 542.1,262.9Z" fill="#d0d1e6"/>
<path d="M562,265.2 568.1,265.2 567.4,267.5 562.8,267.5Z" fill="#fff7fb"/>
<path d="M562,269.1 568.1,270.6 569.7,278.2 566.6,279.8 563.5,278.2 562.8,273.6Z" fill="#d0d1e6"/>
<path d="M548,312.5 550.5,315.5 551.2,320.5 548.5,322.8 546,318.5Z" fill="#d0d1e6"/>
<path d="M540.5,209.4 547.6,206.8 558,204.2 560.6,202.9 568.4,205.5 570,207.9 577.1,206.8 584.1,208.5 593.5,207.4 598.2,209.1 597.6,212.6 602.9,213.8 607.6,216.2 601.8,217.4 595.9,220.9 593.5,225.6 585.3,229.1 579.4,227.4 570,226.8 568.4,226.2 560.6,222.4 548.9,218.5 542.5,212Z" fill="#fff7fb"/>
<path d="M637.5,226.3 636,228.1 632.3,228.9 628.5,233 630.8,236 631.1,239 634.9,239.4 637.5,237.5 636,233 637.5,230Z" fill="#d0d1e6"/>
<path d="M634.9,239.4 637.5,237.5 639.8,239 642.8,242.8 643.9,245.8 642,247.3 639,248 637.5,245 636,242Z" fill="#74a9cf"/>
<path d="M655.5,219.5 658.5,221 663.8,222.5 666.8,224.8 663.8,226.3 661.5,228.5 659.3,229.3 657,227 656.3,224.8 657,222.5Z" fill="#3690c0"/>
<path d="M660,230 663.8,233 666,237.5 667.5,245 666,247.3 660,250.3 657,248 651,245.8 648,250.3 646.5,251.8 649.5,248.8 654,245 657.8,241.3 660.8,236.8 660,233Z" fill="#3690c0"/>
<path d="M646.5,251.8 650.3,250.3 652.5,252.5 652.5,256.3 651,256.6 648.8,254Z" fill="#3690c0"/>
<path d="M653.3,249.5 657,249.1 656.6,251 654,251.8Z" fill="#3690c0"/>
<path d="M579,264.2 581.9,264.5 585,270.6 589.5,276.7 585,285.9 586.5,293.5 588,299.7 586.5,304.2 583.4,295.1 580.4,295.1 575.8,287.4 571.5,280 572.2,277 576,271Z" fill="#ece7f2"/>
<path d="M585,285.9 592.6,284.4 598.7,290.5 603.3,298.1 598.7,301.2 592.6,299.7 591.1,304.2 589.5,311.9 592,318.2 596.2,320.3 597.8,322.4 593.5,321.4 589.5,318 588,310.4 588,299.7 586.5,293.5Z" fill="#74a9cf"/>
<path d="M589.5,281.3 594.1,279.8 600.2,284.4 604.8,292 607.9,298.1 603.3,298.1 598.7,290.5 592.6,284.4Z" fill="#fff7fb"/>
<path d="M594.1,279.8 601.8,278.2 607.9,279.8 604.8,284.4 607.9,290.5 612.5,299.7 613.2,307.3 606.4,313.4 603.3,311.9 607.9,307.3 607.9,298.1 604.8,292 600.2,284.4Z" fill="#a6bddb"/>
<path d="M598.7,301.2 603.3,298.1 607.9,298.1 607.9,307.3 603.3,308.8 599.5,305.8Z" fill="#fff7fb"/>
<path d="M593.5,321.4 597.8,322.4 599.4,326.6 601.5,330.9 603.6,334.1 601.5,335.1 597.2,330.9 594.6,326.6Z" fill="#ece7f2"/>
<path d="M582.4,324 587.7,324.5 590.9,328.8 596.2,335.1 602.5,341.5 606.8,345.7 606.8,352.1 604.6,353.1 599.4,347.8 595.1,342.5 590.9,335.1 585.6,328.8Z" fill="#d0d1e6"/>
<path d="M605.7,354.2 609.9,353.6 617.4,355.2 622.6,356.8 628,358.4 626.9,360.5 621.6,359.5 615.2,358.4 608.9,356.8Z" fill="#d0d1e6"/>
<path d="M631.1,360.5 636.4,359.5 635.9,361.6 632.2,361.6ZM638.5,360.5 644.9,359.5 643.8,361.1 639.6,361.6ZM636.4,362.6 639.6,363.7 638.5,364.8ZM647,363.7 654.4,359.5 655.5,360.5 648.1,364.8Z" fill="#d0d1e6"/>
<path d="M614.2,334.1 617.4,335.6 622.6,334.1 627.9,330.9 631.1,327.7 634.3,325.6 635.4,330.9 636.4,335.1 634.3,337.2 632.2,342.5 630.1,347.8 626.9,347.8 618.4,345.7 615.2,341.5Z" fill="#d0d1e6"/>
<path d="M615.2,333 619.5,331.9 624.8,327.7 629,323.5 632.2,320.3 637.5,324.5 634.3,325.6 631.1,327.7 627.9,330.9 622.6,334.1 617.4,335.6Z" fill="#ece7f2"/>
<path d="M638.5,336.2 642.8,335.1 651.2,334.1 648.1,337.2 642.8,338.3 640.6,340.4 647,340.4 643.8,343.6 647,351 644.9,352.1 641.7,346.8 639.6,352.1 637.5,348.9 638.5,342.5Z" fill="#d0d1e6"/>
<path d="M637,290 641,290.5 641,295 639,300 642,301 647,304 651,308 649,310 644,306 640,305 637.5,302 636.5,296Z" fill="#d0d1e6"/>
<path d="M644,318 648,316 652,313 654.5,317 653,322 650,323 648,320 645,319.5Z" fill="#d0d1e6"/>
<path d="M642,308 647,309 646,313 643,312Z" fill="#d0d1e6"/>
<path d="M632,316 637.5,309 638,310 633,316.5Z" fill="#d0d1e6"/>
<path d="M656.1,333 658.5,332.8 659.1,340.5 657,339Z" fill="#d0d1e6"/>
<path d="M664.2,340.5 668.5,339.1 672,340.5 672.7,343.3 678.4,342.6 682.6,342.6 687.5,345.4 686.8,361.6 681.2,360.2 679.8,356 681.9,352.5 676.9,349.6 674.1,347.5 668.5,344.7 666.4,342.6Z" fill="#d0d1e6"/>
<path d="M687.5,345.4 693.9,347.5 699.5,352.5 702.4,356.7 708.7,365.2 702.4,365.2 696.7,362.4 692.5,360.9 686.8,361.6Z" fill="#fff7fb"/>
<path d="M704.5,353.2 709.4,351.8 713.6,348.2 711.5,344.7 715.8,348.2 714.4,351.8 708.7,354.6Z" fill="#fff7fb"/>
<path d="M719.3,351.8 722,353.5 721,354ZM724.5,356 727.5,358.5 726.5,359ZM731,361 734.8,365.9 733.8,366ZM743.3,376.5 744.7,380.7 744,380.9ZM767.3,384.2 773,380.7 772.5,382 768,385ZM734.8,390.6 739.8,396.2 739,396.6 734.5,391.5Z" fill="#fff7fb"/>
<path d="M652,364.5 660,362 658,364.5 653,366Z" fill="#d0d1e6"/>
<path d="M615,428.3 616.7,420 617.5,408.3 618.3,400 621.7,393.3 635,390 640.8,383.3 650,375 658.3,376.7 665,368.3 671.7,370 676.7,370.8 673.3,376.7 682.5,384.2 686.7,378.3 690,366.7 693.3,376.7 696.7,388.3 701.7,396.7 705.8,405 705,413.3 698.3,421.7 691.7,430 685,435 675,439.2 666.7,436.7 663.3,428.3 660,425 656.7,421.7 643.3,420 630,423.3 620,428.3Z" fill="#d0d1e6"/>
<path d="M668.3,445.8 676.7,445 675,449.2 670,451.7Z" fill="#d0d1e6"/>
<path d="M738.3,428.3 741.7,433.3 746.7,436.7 743.3,440 735,445.8 732.5,443.3 738.3,438.3Z" fill="#fff7fb"/>
<path d="M705,456.7 713,452 725,446.5 731,443.5 733,446.5 722,452 710,458.5 704,459Z" fill="#fff7fb"/>
<path d="M733.3,390 735,390.5 740,395.8 738.5,396Z" fill="#fff7fb"/>
<path d="M9.2,285.4 10.8,285.2 12.1,286.7 10.4,288.3 9.2,288.3ZM5,281.3 7.5,282.1 10,283.3 8.8,283.8 5.4,282.5ZM2.1,280 3.75,280.2 2.5,280.8Z" fill="#0570b0"/>
<path d="M432.5,342 435,341.5 434.5,345 432,345.5ZM432,346 434.5,345.5 434,349.5 432.2,349Z" fill="#fff7fb"/>
<path d="M414,244.8 417,244.5 419.5,245.3 416,246.2 414,245.8Z" fill="#fff7fb"/>
<path d="M378.2,140.9 381.2,140 387.6,139.4 401.8,140.3 392.4,141.8 389.4,143.5 387,146.5 383,145.3ZM394.1,143.5 399.4,144 398.5,144.7 394.5,144.5Z" fill="#fff7fb"/>
</g>
<text class="lg" x="180.9" y="530" text-anchor="middle">No data</text>
<rect x="157" y="537.3" width="48" height="10.8" fill="url(#hatch)" stroke="#b5b5b5" stroke-width="0.6"/><line x1="181" y1="534.2" x2="181" y2="537.3" stroke="#aaa" stroke-width="0.6"/>
<rect x="224.40" y="537.3" width="58.53" height="10.8" fill="#fff7fb" stroke="#aaa" stroke-width="0.6"/>
<rect x="282.93" y="537.3" width="58.53" height="10.8" fill="#ece7f2" stroke="#aaa" stroke-width="0.6"/>
<rect x="341.46" y="537.3" width="58.53" height="10.8" fill="#d0d1e6" stroke="#aaa" stroke-width="0.6"/>
<rect x="399.99" y="537.3" width="58.53" height="10.8" fill="#a6bddb" stroke="#aaa" stroke-width="0.6"/>
<rect x="458.52" y="537.3" width="58.53" height="10.8" fill="#74a9cf" stroke="#aaa" stroke-width="0.6"/>
<rect x="517.05" y="537.3" width="58.53" height="10.8" fill="#3690c0" stroke="#aaa" stroke-width="0.6"/>
<rect x="575.58" y="537.3" width="58.53" height="10.8" fill="#0570b0" stroke="#aaa" stroke-width="0.6"/>
<path d="M634.1,537.3 L686.6,537.3 L692.8,542.7 L686.6,548.1 L634.1,548.1 Z" fill="#034e7b" stroke="#aaa" stroke-width="0.6"/>
<line x1="224.40" y1="534.2" x2="224.40" y2="537.3" stroke="#aaa" stroke-width="0.6"/>
<text x="224.4" y="530" text-anchor="middle" class="lg">0</text>
<line x1="282.93" y1="534.2" x2="282.93" y2="537.3" stroke="#aaa" stroke-width="0.6"/>
<text x="282.9" y="530" text-anchor="middle" class="lg">1,000</text>
<line x1="341.46" y1="534.2" x2="341.46" y2="537.3" stroke="#aaa" stroke-width="0.6"/>
<text x="341.5" y="530" text-anchor="middle" class="lg">2,000</text>
<line x1="399.99" y1="534.2" x2="399.99" y2="537.3" stroke="#aaa" stroke-width="0.6"/>
<text x="400.0" y="530" text-anchor="middle" class="lg">5,000</text>
<line x1="458.52" y1="534.2" x2="458.52" y2="537.3" stroke="#aaa" stroke-width="0.6"/>
<text x="458.5" y="530" text-anchor="middle" class="lg">10,000</text>
<line x1="517.05" y1="534.2" x2="517.05" y2="537.3" stroke="#aaa" stroke-width="0.6"/>
<text x="517.0" y="530" text-anchor="middle" class="lg">20,000</text>
<line x1="575.58" y1="534.2" x2="575.58" y2="537.3" stroke="#aaa" stroke-width="0.6"/>
<text x="575.6" y="530" text-anchor="middle" class="lg">50,000</text>
<line x1="634.11" y1="534.2" x2="634.11" y2="537.3" stroke="#aaa" stroke-width="0.6"/>
<text x="634.1" y="530" text-anchor="middle" class="lg">100,000</text>
<text class="ft" x="17" y="581.3"><tspan font-weight="bold">Data source:</tspan> World Health Organization (2024)</text>
<text class="ft" x="832" y="581.3" text-anchor="end" style="font-size:12.9px">OurWorldinData.org/suicide | CC BY</text>
</svg>
</body></html>
